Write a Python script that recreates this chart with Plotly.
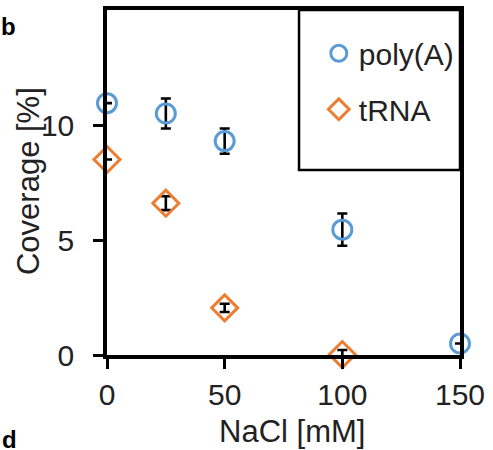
import plotly.graph_objects as go

nacl = [0, 25, 50, 100, 150]
polyA = [10.95, 10.5, 9.3, 5.45, 0.5]
polyA_err = [0.0, 0.65, 0.55, 0.7, 0.0]
trna_x = [0, 25, 50, 100]
trna = [8.5, 6.6, 2.05, 0.02]
trna_err = [0.0, 0.3, 0.18, 0.2]

xticks = [0, 50, 100, 150]
yticks = [0, 5, 10]

FONT = "Liberation Sans, Arial, sans-serif"
TXT = "#222222"
BLUE = "#5B9BD5"
ORANGE = "#ED7D31"

fig = go.Figure()
fig.add_trace(go.Scatter(
    x=nacl, y=polyA, mode="markers", name="poly(A)",
    marker=dict(symbol="circle-open", size=19, color=BLUE, line=dict(width=3, color=BLUE)),
    error_y=dict(type="data", array=polyA_err, visible=True, color="black", thickness=2.6, width=5),
    cliponaxis=False, legendgroup="a",
))
fig.add_trace(go.Scatter(
    x=trna_x, y=trna, mode="markers", name="tRNA",
    marker=dict(symbol="diamond-open", size=20, color=ORANGE, line=dict(width=3, color=ORANGE)),
    error_y=dict(type="data", array=trna_err, visible=True, color="black", thickness=2.6, width=5),
    cliponaxis=False, legendgroup="b",
))

# legend box
fig.add_shape(type="rect", xref="x", yref="y", x0=81.6, x1=150, y0=8.04, y1=15,
              line=dict(color="black", width=2.5), fillcolor="rgba(0,0,0,0)", layer="below")

fig.update_layout(
    width=493, height=450,
    margin=dict(l=107, r=33, t=10, b=95),
    paper_bgcolor="white", plot_bgcolor="white",
    font=dict(family=FONT, size=30, color=TXT),
    showlegend=True,
    legend=dict(x=0.60, y=0.95, xanchor="left", yanchor="top",
                bgcolor="rgba(0,0,0,0)", borderwidth=0,
                font=dict(family=FONT, size=30, color=TXT),
                tracegroupgap=14, itemwidth=30),
    xaxis=dict(range=[0, 150], tickvals=xticks, ticks="outside", ticklen=10, tickwidth=3,
               tickcolor="black", showline=True, linecolor="black", linewidth=3.5, mirror=True,
               showgrid=False, zeroline=False, tickfont=dict(size=30), automargin=False),
    yaxis=dict(range=[0, 15], tickvals=yticks, ticks="outside", ticklen=10, tickwidth=3,
               tickcolor="black", showline=True, linecolor="black", linewidth=3.5, mirror=True,
               showgrid=False, zeroline=False, tickfont=dict(size=30), automargin=False,
               ticklabelstandoff=13),
)

fig.add_annotation(text="Coverage [%]", xref="paper", yref="paper", x=-0.224, y=0.504,
                   textangle=-90, xanchor="center", yanchor="middle", showarrow=False,
                   font=dict(family=FONT, size=31, color=TXT))
fig.add_annotation(text="NaCl [mM]", xref="paper", yref="paper", x=0.524, y=-0.223,
                   xanchor="center", yanchor="middle", showarrow=False,
                   font=dict(family=FONT, size=31, color=TXT))
fig.add_annotation(text="<b>b</b>", xref="paper", yref="paper", x=-0.278, y=0.951,
                   xanchor="center", yanchor="middle", showarrow=False,
                   font=dict(family=FONT, size=24, color="black"))
fig.add_annotation(text="<b>d</b>", xref="paper", yref="paper", x=-0.276, y=-0.245,
                   xanchor="center", yanchor="middle", showarrow=False,
                   font=dict(family=FONT, size=24, color="black"))

fig.write_html("out.html", config={"displayModeBar": False},
               post_script="document.body.style.margin='0px';")
